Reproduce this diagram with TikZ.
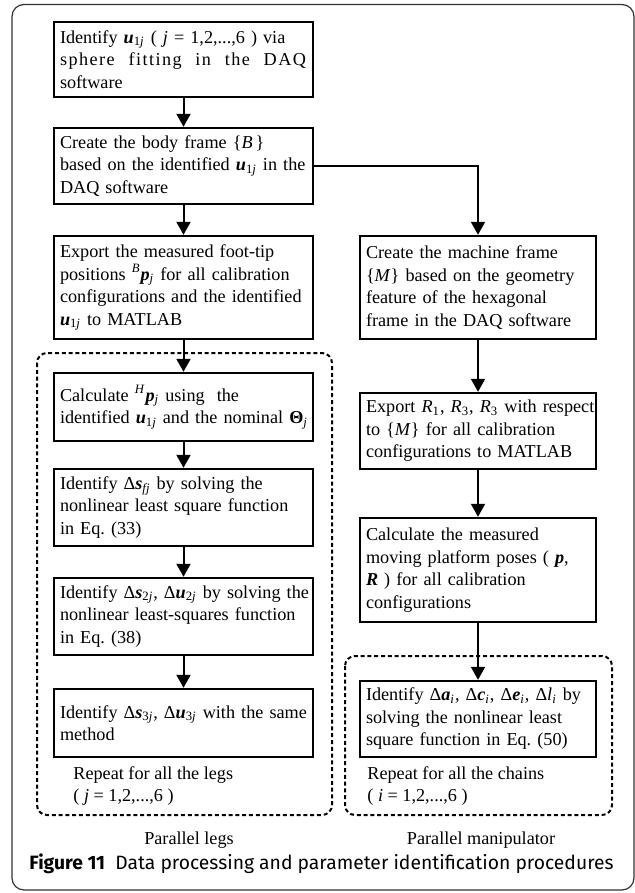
\documentclass[tikz,border=0pt]{standalone}
\usepackage{fontspec}
\setmainfont{Liberation Serif}
\newfontfamily\capfont{Fira Sans}
\usetikzlibrary{arrows.meta}
\newcommand{\bvec}[1]{\textbf{\textit{#1}}}
\newcommand{\vsub}[2]{\bvec{#1}\textsubscript{#2}}
\frenchspacing

\begin{document}
\begin{tikzpicture}[x=0.5pt,y=-0.5pt,font=\fontsize{9.1}{11.25}\selectfont]
  \tikzset{procbox/.style={draw=black,line width=1.2pt,align=left,inner sep=3pt,text width=#1}}
  \tikzset{flowarrow/.style={draw=black,line width=1pt,-{Triangle[length=6.5pt,width=7pt]}}}
  \tikzset{loopframe/.style={draw=black,line width=1pt,dash pattern=on 2pt off 1.4pt,rounded corners=5pt}}
  \tikzset{plainlabel/.style={inner sep=0pt,align=left}}
  \useasboundingbox (0,0) rectangle (635,893);
  \draw[black!80,line width=0.6pt,rounded corners=6pt] (12,4.5) rectangle (634,890);
  \node[procbox=123.5pt,minimum height=37.5pt] (b1) at (183.5,59.5) {\mbox{Identify \vsub{u}{1\textit{j}} ( \textit{j} = 1,2,...,6 ) via}\\ \makebox[123pt][l]{\addfontfeature{LetterSpace=8}sphere\hfill fitting\hfill in\hfill the\hfill DAQ}\\ software};
  \node[procbox=123.5pt,minimum height=38pt] (b2) at (183.5,166) {\mbox{Create the body frame \{\textit{B}\,\}}\\ \mbox{based on the identified \vsub{u}{1\textit{j}} in the}\\ DAQ software};
  \node[procbox=123.5pt,minimum height=51.5pt] (b3) at (183.5,287.5) {\mbox{Export the measured foot-tip}\\ \mbox{positions \textsuperscript{\textit{B}}\vsub{p}{\textit{j}} for all calibration}\\ \mbox{configurations and the identified}\\ \vsub{u}{1\textit{j}} to MATLAB};
  \node[procbox=123.5pt,minimum height=34pt] (b4) at (183.5,407) {\mbox{Calculate \textsuperscript{\textit{H}}\vsub{p}{\textit{j}} using\ \ the}\\ \mbox{identified \vsub{u}{1\textit{j}} and the nominal \textbf{Θ}\textsubscript{\textit{j}}}};
  \node[procbox=123.5pt,minimum height=38.5pt] (b5) at (183.5,507.5) {\mbox{Identify Δ\vsub{s}{\textit{fj}} by solving the}\\ \mbox{nonlinear least square function}\\ in Eq. (33)};
  \node[procbox=123.5pt,minimum height=38.5pt] (b6) at (183.5,616.5) {\mbox{Identify Δ\vsub{s}{2\textit{j}}, Δ\vsub{u}{2\textit{j}} by solving the}\\ \mbox{nonlinear least-squares function}\\ in Eq. (38)};
  \node[procbox=123.5pt,minimum height=34pt] (b7) at (183.5,723) {\mbox{Identify Δ\vsub{s}{3\textit{j}}, Δ\vsub{u}{3\textit{j}} with the same}\\ method};
  \node[procbox=112pt,minimum height=51.5pt] (r1) at (478,287.5) {\mbox{Create the machine frame}\\ \mbox{\{\textit{M}\} based on the geometry}\\ \mbox{feature of the hexagonal}\\ \mbox{frame in the DAQ software}};
  \node[procbox=112pt,minimum height=38pt] (r2) at (478,431) {\mbox{Export \textit{R}\textsubscript{1}, \textit{R}\textsubscript{3}, \textit{R}\textsubscript{3} with respect}\\ \mbox{to \{\textit{M}\} for all calibration}\\ \mbox{configurations to MATLAB}};
  \node[procbox=112pt,minimum height=52pt] (r3) at (478,570) {\mbox{Calculate the measured}\\ \mbox{moving platform poses ( \bvec{p},}\\ \mbox{\bvec{R} ) for all calibration}\\ configurations};
  \node[procbox=112pt,minimum height=38pt] (r4) at (478,719) {\mbox{Identify Δ\vsub{a}{\textit{i}}, Δ\vsub{c}{\textit{i}}, Δ\vsub{e}{\textit{i}}, Δ\textit{l}\textsubscript{\textit{i}} by}\\ \mbox{solving the nonlinear least}\\ \mbox{square function in Eq. (50)}};
  \draw[loopframe] (37,353) rectangle (332,815);
  \draw[loopframe] (345,656) rectangle (612,815);
  \node[plainlabel,anchor=west] (legsrep) at (73,786) {Repeat for all the legs\\ ( \textit{j} = 1,2,...,6 )};
  \node[plainlabel,anchor=west] (chainsrep) at (367,786) {Repeat for all the chains\\ ( \textit{i} = 1,2,...,6 )};
  \node[plainlabel] (legslabel) at (189,840) {Parallel legs};
  \node[plainlabel] (manlabel) at (481,840) {Parallel manipulator};
  \node[plainlabel,anchor=west,font=\capfont\fontsize{9.65}{11}\selectfont] (caption) at (29,864) {\textbf{Figure 11}\ \ Data processing and parameter identification procedures};
  \draw[flowarrow] (b1) -- (b2);
  \draw[flowarrow] (b2) -- (b3);
  \draw[flowarrow] (b3) -- (b4);
  \draw[flowarrow] (b4) -- (b5);
  \draw[flowarrow] (b5) -- (b6);
  \draw[flowarrow] (b6) -- (b7);
  \draw[flowarrow] (b2.east) -| (r1.north);
  \draw[flowarrow] (r1) -- (r2);
  \draw[flowarrow] (r2) -- (r3);
  \draw[flowarrow] (r3) -- (r4);
\end{tikzpicture}
\end{document}
